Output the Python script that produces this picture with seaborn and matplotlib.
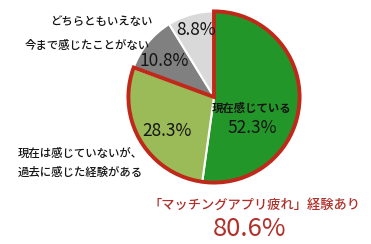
import numpy as np
import matplotlib.pyplot as plt
import seaborn as sns

# data (clockwise from 12 o'clock)
categories = ["現在感じている", "現在は感じていないが、\n過去に感じた経験がある",
              "今まで感じたことがない", "どちらともいえない"]
shares = [52.3, 28.3, 10.8, 8.8]
slice_colors = ["#23962a", "#9bbb59", "#808080", "#d9d9d9"]
experienced_total = 80.6
headline = "「マッチングアプリ疲れ」経験あり"

sns.set_theme(style="white")
plt.rcParams['font.family'] = ['Noto Sans CJK JP', 'DejaVu Sans']

fig = plt.figure(figsize=(3.71, 2.44), dpi=100)
W, H = 371, 244
cx, cy, r = 214, 97, 89
ax = fig.add_axes([(cx - r) / W, (H - cy - r) / H, 2 * r / W, 2 * r / H])

wedges, _ = ax.pie(shares, colors=slice_colors, startangle=90, counterclock=False,
                   radius=1, wedgeprops=dict(edgecolor="white", linewidth=1.5))

# red outline around the "experienced" group
outline, _ = ax.pie([experienced_total, 100 - experienced_total], startangle=90,
                    counterclock=False, radius=1,
                    wedgeprops=dict(facecolor="none", edgecolor="#c0281a", linewidth=2.8))
outline[1].set_visible(False)
ax.set_xlim(-1.04, 1.04)
ax.set_ylim(-1.04, 1.04)
ax.set_aspect("equal")
ax.axis("off")

def px(x, y):
    return x / W, 1 - y / H

txt = "#141414"
# labels inside the slices
fig.text(*px(252, 108), categories[0], ha="center", va="center", fontsize=8.2,
         fontweight="bold", color=txt)
fig.text(*px(252, 128), f"{shares[0]}%", ha="center", va="center", fontsize=12.5, color=txt)
fig.text(*px(167, 131), f"{shares[1]}%", ha="center", va="center", fontsize=12.5, color=txt)
fig.text(*px(164, 61), f"{shares[2]}%", ha="center", va="center", fontsize=12.5, color=txt)
fig.text(*px(196, 30), f"{shares[3]}%", ha="center", va="center", fontsize=12.5, color=txt)

# labels outside the pie
fig.text(*px(152, 22), categories[3], ha="right", va="center", fontsize=8.2,
         fontweight="medium", color=txt)
fig.text(*px(150, 45), categories[2], ha="right", va="center", fontsize=8.2,
         fontweight="medium", color=txt)
fig.text(*px(18, 153), categories[1].split("\n")[0], ha="left", va="center", fontsize=8.2,
         fontweight="medium", color=txt)
fig.text(*px(18, 172), categories[1].split("\n")[1], ha="left", va="center", fontsize=8.2,
         fontweight="medium", color=txt)

fig.text(*px(254, 205), headline, ha="center", va="center", fontsize=9.5,
         fontweight="medium", color="#b0302a")
fig.text(*px(250, 229), f"{experienced_total}%", ha="center", va="center", fontsize=18.5,
         color="#b0302a")

fig.savefig("out.png", dpi=100)
